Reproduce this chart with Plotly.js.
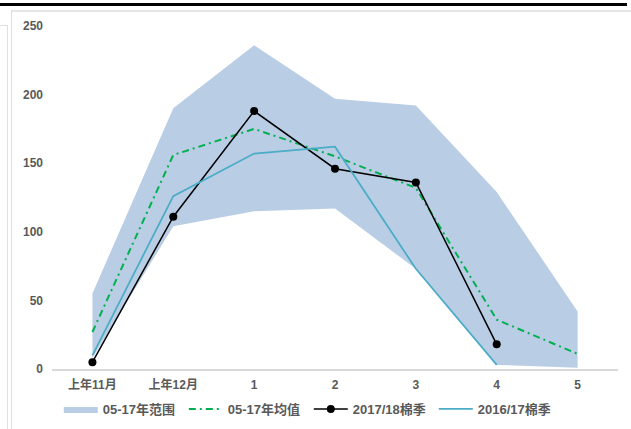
<!DOCTYPE html>
<html>
<head>
<meta charset="utf-8">
<script src="https://cdn.plot.ly/plotly-3.0.1.min.js"></script>
<style>
  html, body { margin: 0; padding: 0; background: #fff; }
  #wrap { position: relative; width: 631px; height: 429px; overflow: hidden; }
  .deco { position: absolute; }
  #chart { position: absolute; left: 0; top: 0; width: 631px; height: 429px; }
</style>
</head>
<body>
<div id="wrap">
  <div class="deco" style="left:0;top:3px;width:627px;height:3px;background:#000;"></div>
  <div class="deco" style="left:11px;top:10px;width:620px;height:2px;background:#e6e6e6;"></div>
  <div class="deco" style="left:11px;top:10px;width:1px;height:419px;background:#e0e0e0;"></div>
  <div class="deco" style="left:0;top:25px;width:8px;height:1px;background:#e0e0e0;"></div>
  <div class="deco" style="left:7px;top:25px;width:1px;height:404px;background:#e0e0e0;"></div>
  <div id="chart"></div>
</div>
<script>
const categories = ['上年11月', '上年12月', '1', '2', '3', '4', '5'];
const rangeLow  = [8, 104, 115, 117, 73, 3, 1];
const rangeHigh = [55, 190, 236, 197, 192, 129, 42];
const avg0517   = [27, 156, 175, 155, 132, 36, 11];
const season1718 = [5, 111, 188, 146, 136, 18, null];
const season1617 = [10, 126, 157, 162, 73, 3, null];

const seriesNames = ['05-17年范围', '05-17年均值', '2017/18棉季', '2016/17棉季'];
const yTicks = [0, 50, 100, 150, 200, 250];

const fontFam = 'Liberation Sans, Arial, Noto Sans CJK SC, sans-serif';
const txtColor = '#595959';

const traces = [
  {
    x: categories, y: rangeLow, type: 'scatter', mode: 'lines',
    line: { width: 0, color: 'rgba(0,0,0,0)' }, showlegend: false, hoverinfo: 'skip'
  },
  {
    x: categories, y: rangeHigh, type: 'scatter', mode: 'lines', name: seriesNames[0],
    fill: 'tonexty', fillcolor: '#b9cde5', line: { width: 0, color: '#b9cde5' }
  },
  {
    x: categories, y: avg0517, type: 'scatter', mode: 'lines', name: seriesNames[1],
    line: { color: '#00b050', width: 2, dash: '7px,4px,2px,4px' }
  },
  {
    x: categories, y: season1718, type: 'scatter', mode: 'lines+markers', name: seriesNames[2],
    line: { color: '#000000', width: 1.5 }, marker: { color: '#000000', size: 8 }
  },
  {
    x: categories, y: season1617, type: 'scatter', mode: 'lines', name: seriesNames[3],
    line: { color: '#4bacc6', width: 1.75 }
  }
];

const layout = {
  width: 631, height: 429,
  margin: { l: 52, r: 13, t: 26, b: 60, autoexpand: false },
  paper_bgcolor: 'rgba(0,0,0,0)',
  plot_bgcolor: 'rgba(0,0,0,0)',
  font: { family: fontFam, color: txtColor, size: 12, weight: 'bold' },
  xaxis: {
    type: 'category', range: [-0.5, 6.5],
    showgrid: false, zeroline: false,
    showline: true, linecolor: '#d9d9d9', linewidth: 1.5,
    ticks: '', ticklabelstandoff: 4,
    tickfont: { family: fontFam, size: 12, color: txtColor, weight: 'bold' }
  },
  yaxis: {
    range: [0, 250], tickvals: yTicks, ticktext: yTicks.map(String),
    showgrid: false, zeroline: false, showline: false,
    ticks: '', ticklabelstandoff: 8,
    tickfont: { family: fontFam, size: 12, color: txtColor, weight: 'bold' }
  },
  showlegend: true,
  legend: {
    orientation: 'h', x: 0.012, xanchor: 'left', y: -0.073, yanchor: 'top',
    font: { family: fontFam, size: 13, color: txtColor, weight: 'bold' },
    itemwidth: 34, traceorder: 'normal', entrywidth: 76, entrywidthmode: 'pixels',
    bgcolor: 'rgba(0,0,0,0)'
  },
  hovermode: false
};

Plotly.newPlot('chart', traces, layout, { displayModeBar: false, staticPlot: true });
</script>
</body>
</html>
